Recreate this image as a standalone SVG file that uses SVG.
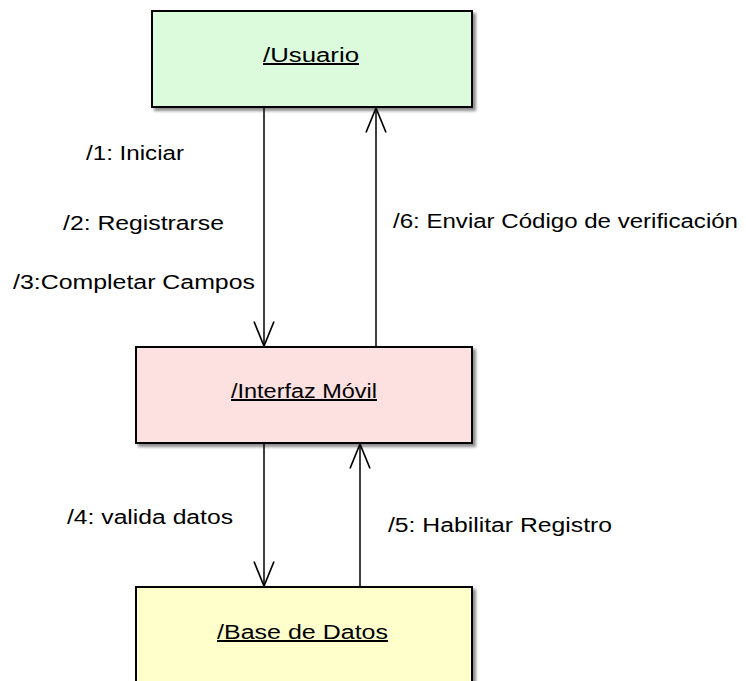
<svg xmlns="http://www.w3.org/2000/svg" width="746" height="681" viewBox="0 0 746 681">
<defs>
<style>
.box{stroke:#000;stroke-width:2;filter:url(#sh)}
.t{font-family:"Liberation Sans",Arial,sans-serif;font-size:20px;fill:#000}
.u{text-decoration:underline}
.c{stroke:#000;stroke-width:1.5;fill:none;marker-end:url(#arr)}
</style>
<filter id="sh" x="-10%" y="-10%" width="130%" height="130%">
<feDropShadow dx="3" dy="3" stdDeviation="1.5" flood-color="#000" flood-opacity="0.45"/>
</filter>
<marker id="arr" markerUnits="userSpaceOnUse" markerWidth="30" markerHeight="30" viewBox="-25 -12 27 24" refX="0" refY="0" orient="auto">
<path d="M-22,-9 L0,0 L-22,9" fill="none" stroke="#000" stroke-width="1.5"/>
</marker>
</defs>
<rect width="746" height="681" fill="#fff"/>
<g id="usuario">
<rect class="box" x="152" y="11" width="320" height="96" fill="#dcfadc"/>
<text class="t u" x="263" y="62" textLength="96" lengthAdjust="spacingAndGlyphs">/Usuario</text>
</g>
<g id="interfaz">
<rect class="box" x="136" y="347" width="336" height="96" fill="#fde0e0"/>
<text class="t u" x="231" y="398" textLength="146" lengthAdjust="spacingAndGlyphs">/Interfaz Móvil</text>
</g>
<g id="base">
<rect class="box" x="136" y="587" width="336" height="110" fill="#ffffcc"/>
<text class="t u" x="217" y="639" textLength="171" lengthAdjust="spacingAndGlyphs">/Base de Datos</text>
</g>
<g id="connectors">
<line class="c" x1="264" y1="107" x2="264" y2="346"/>
<line class="c" x1="376" y1="347" x2="376" y2="108"/>
<line class="c" x1="264" y1="443" x2="264" y2="586"/>
<line class="c" x1="360" y1="587" x2="360" y2="444"/>
<text class="t" x="86" y="160" textLength="98" lengthAdjust="spacingAndGlyphs">/1: Iniciar</text>
<text class="t" x="63" y="230" textLength="161" lengthAdjust="spacingAndGlyphs">/2: Registrarse</text>
<text class="t" x="13" y="289" textLength="242" lengthAdjust="spacingAndGlyphs">/3:Completar Campos</text>
<text class="t" x="393" y="228" textLength="345" lengthAdjust="spacingAndGlyphs">/6: Enviar Código de verificación</text>
<text class="t" x="67" y="524" textLength="166" lengthAdjust="spacingAndGlyphs">/4: valida datos</text>
<text class="t" x="388" y="532" textLength="224" lengthAdjust="spacingAndGlyphs">/5: Habilitar Registro</text>
</g>
</svg>
